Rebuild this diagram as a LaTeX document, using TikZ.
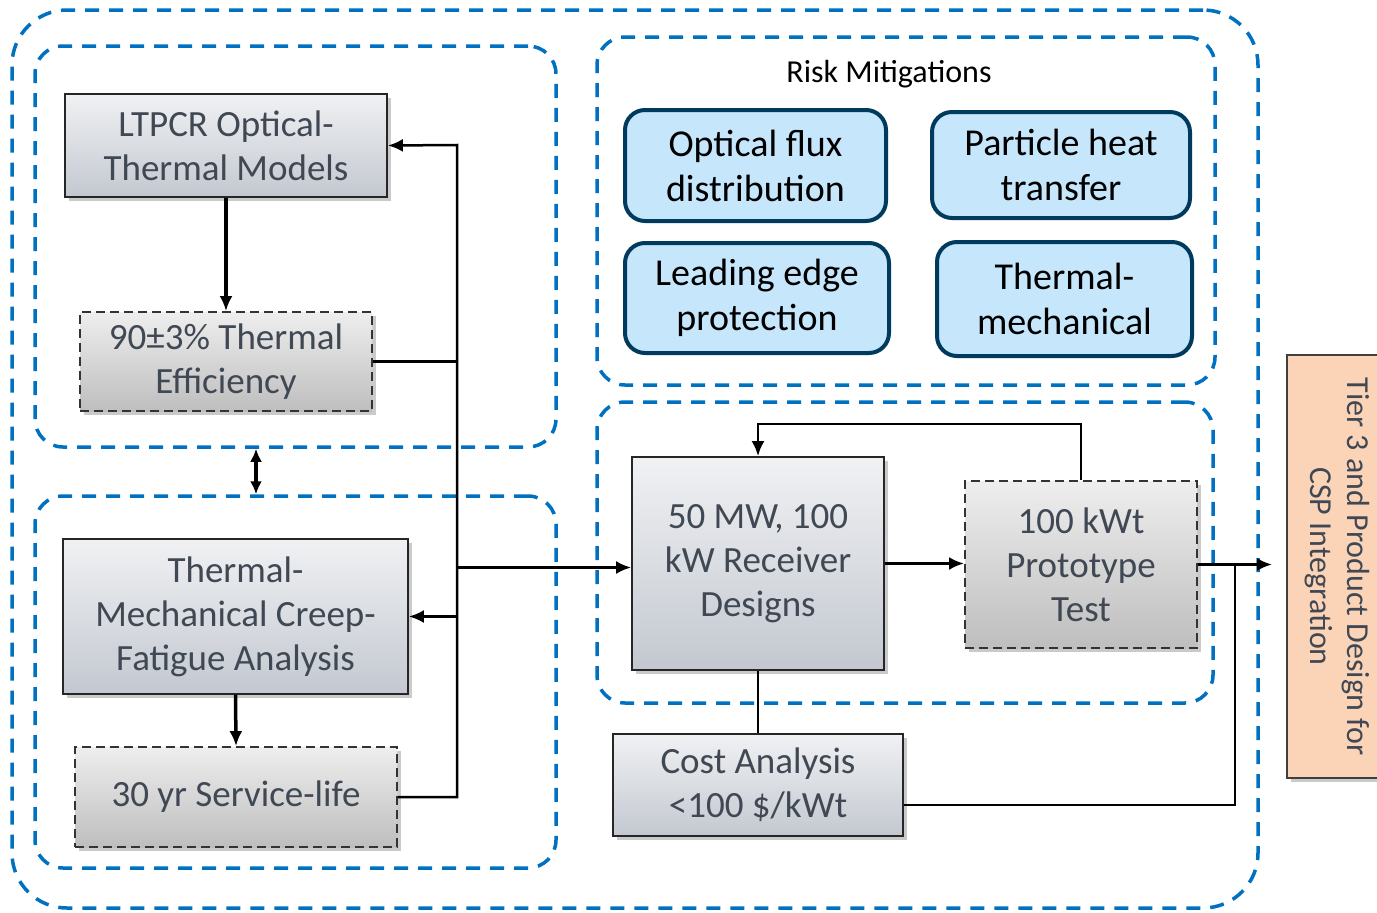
\documentclass[tikz,border=0pt]{standalone}
\usepackage{fontspec}
\setmainfont{Carlito}
\usetikzlibrary{arrows.meta,shadows,calc}
\definecolor{grpblue}{HTML}{0070C0}
\definecolor{boxtxt}{HTML}{404854}
\definecolor{boxtop}{HTML}{F0F1F3}
\definecolor{boxbot}{HTML}{C3C8D0}
\definecolor{dtop}{HTML}{EEEEEE}
\definecolor{dbot}{HTML}{BEBEBE}
\definecolor{riskfill}{HTML}{C5E6FB}
\definecolor{riskdraw}{HTML}{003A5C}
\definecolor{peach}{HTML}{FBD4B7}
\begin{document}
\begin{tikzpicture}[x=1pt,y=-1pt,
  txt/.style={font=\fontsize{37}{44}\selectfont, align=center, inner sep=0pt},
  group/.style={draw=grpblue, line width=3.5pt, dash pattern=on 14pt off 10pt, rounded corners=28pt, inner sep=0pt},
  shad/.style={drop shadow={shadow xshift=4pt, shadow yshift=-4pt, opacity=0.35, fill=black!60}},
  solidbox/.style={txt, draw=black!85, line width=1.8pt, top color=boxtop, bottom color=boxbot, text=boxtxt, shad},
  dashbox/.style={txt, draw=black!80, line width=1.8pt, dash pattern=on 9pt off 5pt, top color=dtop, bottom color=dbot, text=boxtxt, shad},
  riskbox/.style={txt, font=\fontsize{38}{45}\selectfont, draw=riskdraw, line width=4pt, fill=riskfill, rounded corners=20pt, text=black},
  conn/.style={line width=2.5pt, black},
  arr/.style={conn, -{Latex[length=15pt,width=13pt]}},
  thickarr/.style={line width=3.5pt, black, -{Latex[length=15pt,width=13pt]}},
]
\useasboundingbox (0,0) rectangle (1377,913);
% groups
\node[group, rounded corners=55pt, minimum width=1246pt, minimum height=898pt] (outer) at (635,459) {};
\node[group, minimum width=521pt, minimum height=401pt] (gTL) at (295.5,246.5) {};
\node[group, minimum width=521pt, minimum height=372pt] (gBL) at (295.5,682) {};
\node[group, minimum width=618pt, minimum height=348pt] (gRisk) at (906,211) {};
\node[group, minimum width=616pt, minimum height=301pt] (gMid) at (905,552.5) {};
% boxes
\node[solidbox, minimum width=322pt, minimum height=103pt] (ltpcr) at (226,145.5) {LTPCR Optical-\\Thermal Models};
\node[dashbox, minimum width=292pt, minimum height=99pt] (eff) at (226,361.5) {90±3\% Thermal\\Efficiency};
\node[solidbox, minimum width=345pt, minimum height=155pt] (tmc) at (235.5,616.5) {Thermal-\\Mechanical Creep-\\Fatigue Analysis};
\node[dashbox, minimum width=322pt, minimum height=100pt] (svc) at (236,797) {30 yr Service-life};
\node[solidbox, minimum width=252pt, minimum height=213pt] (rec) at (758,563.5) {50 MW, 100\\kW Receiver\\Designs};
\node[dashbox, minimum width=232pt, minimum height=167pt] (proto) at (1081,564.5) {100 kWt\\Prototype\\Test};
\node[solidbox, minimum width=290pt, minimum height=102pt] (cost) at (758,785) {Cost Analysis\\<100 \$/kWt};
% risk mitigations
\node[font=\fontsize{32}{38}\selectfont, inner sep=0pt] (risk) at (889,74) {Risk Mitigations};
\node[riskbox, minimum width=261pt, minimum height=111pt] (optical) at (755.5,165.5) {Optical flux\\distribution};
\node[riskbox, minimum width=258pt, minimum height=106pt] (particle) at (1061,165) {Particle heat\\transfer};
\node[riskbox, minimum width=264pt, minimum height=110pt] (leading) at (757,298) {Leading edge\\protection};
\node[riskbox, minimum width=255pt, minimum height=114pt] (thermo) at (1064.5,299) {Thermal-\\mechanical};
% tier 3
\node[txt, draw=black!75, line width=1.8pt, fill=peach, text=boxtxt, shad, minimum width=423pt, minimum height=100pt, rotate=-90, font=\fontsize{32}{37}\selectfont] (tier) at (1337,566.5) {Tier 3 and Product Design for\\CSP Integration};
% connectors
\coordinate (busT) at (457,145);
\draw[thickarr] (ltpcr.south) -- (eff.north);
\draw[thickarr] (tmc.south) -- (svc.north);
\draw[line width=3.5pt, {Latex[length=13pt,width=12pt]}-{Latex[length=13pt,width=12pt]}] (gTL.south -| 256,0) -- (gBL.north -| 256,0);
\draw[arr] (svc.east) -| (busT) -- (ltpcr.east);
\draw[conn] (eff.east) -- (eff.east -| busT);
\draw[arr] (busT |- tmc.east) -- (tmc.east);
\draw[arr] ($(busT |- rec.west)+(0,4)$) -- ($(rec.west)+(0,4)$);
\draw[thickarr] (rec.east) -- (rec.east -| proto.west);
\draw[arr] (proto.north) -- ++(0,-56) -| (rec.north);
\draw[conn] (rec.south) -- (cost.north);
\coordinate (join) at (1235,564);
\draw[conn] ($(cost.east)+(0,20)$) -| (join);
\draw[thickarr, shorten >=14pt] (proto.east) -- (proto.east -| tier.south);
\end{tikzpicture}
\end{document}
